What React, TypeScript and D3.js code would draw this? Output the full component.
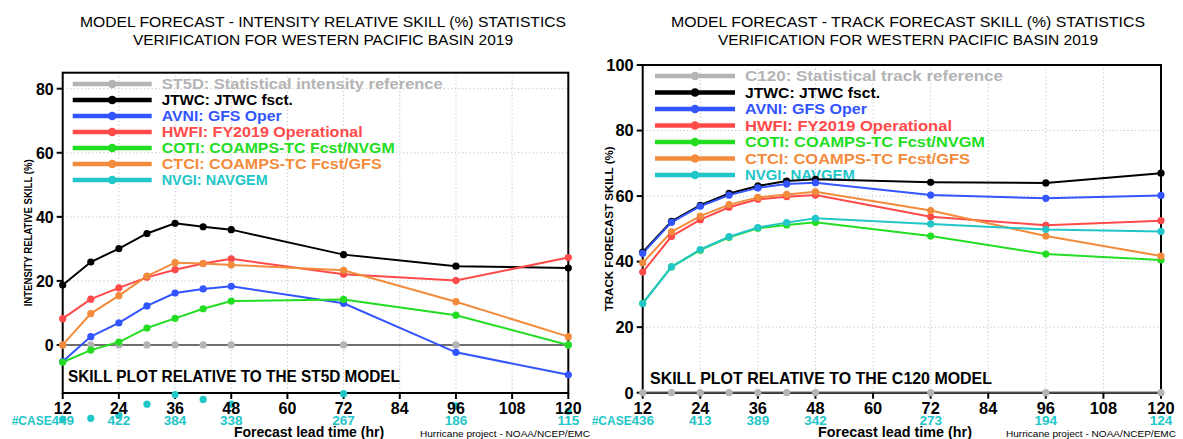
import React from "react";
import * as d3 from "d3";

const leadTimes = [12, 18, 24, 30, 36, 42, 48, 72, 96, 120];
const xTickValues = [12, 24, 36, 48, 60, 72, 84, 96, 108, 120];
const intensityTicks = [0, 20, 40, 60, 80];
const trackTicks = [0, 20, 40, 60, 80, 100];
const caseLeadTimes = [12, 24, 36, 48, 72, 96, 120];
const intensityCases = [449, 422, 384, 338, 267, 186, 115];
const trackCases = [436, 413, 389, 342, 273, 194, 124];

const st5dIntensity = [0, 0, 0, 0, 0, 0, 0, 0, 0, 0];
const jtwcIntensity = [18.7, 25.9, 30.1, 34.8, 38.0, 36.9, 36.0, 28.2, 24.6, 24.0];
const avniIntensity = [-5.2, 2.6, 6.9, 12.2, 16.2, 17.5, 18.3, 13.0, -2.3, -9.3];
const hwfiIntensity = [8.2, 14.3, 17.8, 21.1, 23.5, 25.4, 26.9, 22.1, 20.1, 27.3];
const cotiIntensity = [-5.4, -1.6, 0.9, 5.3, 8.3, 11.3, 13.7, 14.2, 9.3, 0.0];
const ctciIntensity = [0.0, 9.8, 15.4, 21.5, 25.7, 25.4, 25.0, 23.3, 13.5, 2.6];
const nvgiIntensity = [-23.2, -22.9, -22.0, -18.5, -15.5, -17.0, -18.5, -15.2, -19.0, -20.7];

const c120Track = [0, 0, 0, 0, 0, 0, 0, 0, 0, 0];
const jtwcTrack = [42.9, 52.3, 57.2, 60.8, 63.1, 64.6, 65.1, 64.2, 64.0, 67.0];
const avniTrack = [42.5, 52.0, 56.9, 60.3, 62.5, 63.7, 64.1, 60.3, 59.3, 60.2];
const hwfiTrack = [36.8, 47.7, 52.8, 56.6, 59.0, 59.8, 60.3, 53.7, 51.1, 52.5];
const cotiTrack = [27.3, 38.4, 43.5, 47.4, 50.2, 51.2, 52.0, 47.8, 42.3, 40.5];
const ctciTrack = [39.6, 49.1, 53.9, 57.4, 59.6, 60.5, 61.3, 55.6, 47.8, 41.7];
const nvgiTrack = [27.2, 38.4, 43.7, 47.6, 50.4, 51.9, 53.2, 51.5, 49.8, 49.2];

const modelColors = ["#b4b4b4", "#000000", "#3355ff", "#ff4a4a", "#22dd22", "#f28c3c", "#22c6c8"];
const intensityLabels = [
  "ST5D: Statistical intensity reference",
  "JTWC: JTWC fsct.",
  "AVNI: GFS Oper",
  "HWFI: FY2019 Operational",
  "COTI: COAMPS-TC Fcst/NVGM",
  "CTCI: COAMPS-TC Fcst/GFS",
  "NVGI: NAVGEM",
];
const trackLabels = [
  "C120: Statistical track reference",
  "JTWC: JTWC fsct.",
  "AVNI: GFS Oper",
  "HWFI: FY2019 Operational",
  "COTI: COAMPS-TC Fcst/NVGM",
  "CTCI: COAMPS-TC Fcst/GFS",
  "NVGI: NAVGEM",
];
const intensityTitle = ["MODEL FORECAST - INTENSITY RELATIVE SKILL (%) STATISTICS", "VERIFICATION FOR WESTERN PACIFIC BASIN 2019"];
const trackTitle = ["MODEL FORECAST - TRACK FORECAST SKILL (%) STATISTICS", "VERIFICATION FOR WESTERN PACIFIC BASIN 2019"];

const FONT = "'Liberation Sans', Arial, Helvetica, sans-serif";
const CYAN_TEXT = "#22c6c8";

type PanelCfg = {
  id: string;
  left: number;
  right: number;
  top: number;
  bottom: number;
  yDomain: [number, number];
  yTicks: number[];
  series: number[][];
  labels: string[];
  labelWidths: number[];
  cases: number[];
  title: string[];
  titleX: number;
  titleLen: number;
  yLabel: string;
  yLabelX: number;
  yLabelLen: number;
  skillText: string;
  skillX: number;
  skillY: number;
  skillLen: number;
  legendX0: number;
  legendX1: number;
  legendTextX: number;
  legendY0: number;
  legendDy: number;
  fs: number;
  footerEnd: number;
  xLabelX: number;
};

function Panel({ c }: { c: PanelCfg }) {
  const x = d3.scaleLinear().domain([12, 120]).range([c.left, c.right]);
  const y = d3.scaleLinear().domain(c.yDomain).range([c.bottom, c.top]);
  const line = d3
    .line<number>()
    .x((_, i) => x(leadTimes[i]))
    .y((d) => y(d));
  const fs = c.fs;
  const midY = (c.top + c.bottom) / 2;
  return (
    <g>
      <defs>
        <clipPath id={`clip-${c.id}`}>
          <rect x={c.left} y={c.top} width={c.right - c.left} height={c.bottom - c.top} />
        </clipPath>
      </defs>
      {/* titles */}
      <text
        x={c.titleX}
        y={27}
        textAnchor="middle"
        fontSize={15.5}
        fontFamily={FONT}
        fill="#000"
        textLength={c.titleLen}
        lengthAdjust="spacingAndGlyphs"
      >
        {c.title[0]}
      </text>
      <text x={c.titleX} y={44.5} textAnchor="middle" fontSize={15.5} fontFamily={FONT} fill="#000">
        {c.title[1]}
      </text>
      {/* grid */}
      {c.yTicks
        .filter((t) => t !== 0 && y(t) > c.top + 1)
        .map((t) => (
          <line key={`gy${t}`} x1={c.left} x2={c.right} y1={y(t)} y2={y(t)} stroke="#c4c4c4" strokeWidth={1} strokeDasharray="1.2,2.5" />
        ))}
      {xTickValues
        .filter((t) => t !== 12 && t !== 120)
        .map((t) => (
          <line key={`gx${t}`} x1={x(t)} x2={x(t)} y1={c.top} y2={c.bottom} stroke="#c4c4c4" strokeWidth={1} strokeDasharray="1.2,2.5" />
        ))}
      {/* zero line */}
      <line x1={c.left} x2={c.right} y1={y(0)} y2={y(0)} stroke="#666" strokeWidth={1.6} />
      {/* frame */}
      <rect x={c.left} y={c.top} width={c.right - c.left} height={c.bottom - c.top} fill="none" stroke="#000" strokeWidth={2} />
      {/* ticks */}
      {c.yTicks.map((t) => (
        <g key={`ty${t}`}>
          <line x1={c.left - 6} x2={c.left} y1={y(t)} y2={y(t)} stroke="#000" strokeWidth={2} />
          <text x={c.left - 9} y={y(t) + 5.8} textAnchor="end" fontSize={16 * fs} fontWeight="bold" fontFamily={FONT}>
            {t}
          </text>
        </g>
      ))}
      {xTickValues.map((t) => (
        <line key={`tx${t}`} x1={x(t)} x2={x(t)} y1={c.bottom} y2={c.bottom + 6} stroke="#000" strokeWidth={2} />
      ))}
      {/* y label */}
      <text
        transform={`translate(${c.yLabelX},${midY}) rotate(-90)`}
        textAnchor="middle"
        fontSize={11 * fs}
        fontWeight="bold"
        fontFamily={FONT}
        textLength={c.yLabelLen}
        lengthAdjust="spacingAndGlyphs"
      >
        {c.yLabel}
      </text>
      {/* legend */}
      {c.labels.map((lab, i) => {
        const ry = c.legendY0 + i * c.legendDy;
        return (
          <g key={`lg${i}`}>
            <line x1={c.legendX0} x2={c.legendX1} y1={ry} y2={ry} stroke={modelColors[i]} strokeWidth={4.5} />
            <circle cx={(c.legendX0 + c.legendX1) / 2} cy={ry} r={4.3} fill={modelColors[i]} />
            <text
              x={c.legendTextX}
              y={ry + 5}
              fontSize={14 * fs}
              fontWeight="bold"
              fontFamily={FONT}
              fill={modelColors[i]}
              textLength={c.labelWidths[i]}
              lengthAdjust="spacingAndGlyphs"
            >
              {lab}
            </text>
          </g>
        );
      })}
      {/* skill note */}
      <text
        x={c.skillX}
        y={c.skillY}
        fontSize={16 * fs}
        fontWeight="bold"
        fontFamily={FONT}
        textLength={c.skillLen}
        lengthAdjust="spacingAndGlyphs"
      >
        {c.skillText}
      </text>
      {/* series lines */}
      <g clipPath={`url(#clip-${c.id})`}>
        {c.series.map((s, i) => (
          <path key={`ln${i}`} d={line(s) || ""} fill="none" stroke={i === 0 ? "#666" : modelColors[i]} strokeWidth={i === 0 ? 1.6 : 2} />
        ))}
      </g>
      {/* markers */}
      {c.series.map((s, i) => (
        <g key={`mk${i}`}>
          {s.map((v, j) => (
            <circle key={j} cx={x(leadTimes[j])} cy={y(v)} r={3.6} fill={modelColors[i]} />
          ))}
        </g>
      ))}
      {/* x tick labels */}
      {xTickValues.map((t) => (
        <text key={`xl${t}`} x={x(t)} y={413.5} textAnchor="middle" fontSize={16 * fs} fontWeight="bold" fontFamily={FONT}>
          {t}
        </text>
      ))}
      {/* case counts */}
      <text
        x={x(12) - 11}
        y={424.5}
        textAnchor="end"
        fontSize={13}
        fontWeight="bold"
        fontFamily={FONT}
        fill={CYAN_TEXT}
        textLength={40}
        lengthAdjust="spacingAndGlyphs"
      >
        #CASE
      </text>
      {caseLeadTimes.map((t, i) => (
        <text key={`cs${t}`} x={x(t)} y={424.5} textAnchor="middle" fontSize={13.5} fontWeight="bold" fontFamily={FONT} fill={CYAN_TEXT}>
          {c.cases[i]}
        </text>
      ))}
      {/* x label */}
      <text x={c.xLabelX} y={436.5} textAnchor="middle" fontSize={14 * fs} fontWeight="bold" fontFamily={FONT}>
        Forecast lead time (hr)
      </text>
      <text x={c.footerEnd} y={437} textAnchor="end" fontSize={9.5} fontFamily={FONT} textLength={170} lengthAdjust="spacingAndGlyphs">
        Hurricane project - NOAA/NCEP/EMC
      </text>
    </g>
  );
}

const intensityPanel: PanelCfg = {
  id: "int",
  left: 62.7,
  right: 568.3,
  top: 72.7,
  bottom: 393,
  yDomain: [-15, 85],
  yTicks: intensityTicks,
  series: [st5dIntensity, jtwcIntensity, avniIntensity, hwfiIntensity, cotiIntensity, ctciIntensity, nvgiIntensity],
  labels: intensityLabels,
  labelWidths: [281, 131, 120, 201, 233, 220, 106],
  cases: intensityCases,
  title: intensityTitle,
  titleX: 323,
  titleLen: 486,
  yLabel: "INTENSITY RELATIVE SKILL (%)",
  yLabelX: 32,
  yLabelLen: 147,
  skillText: "SKILL PLOT RELATIVE TO THE ST5D MODEL",
  skillX: 68,
  skillY: 382,
  skillLen: 332,
  legendX0: 72.7,
  legendX1: 151.7,
  legendTextX: 161.7,
  legendY0: 84,
  legendDy: 16,
  fs: 1,
  footerEnd: 590,
  xLabelX: 309,
};

const trackPanel: PanelCfg = {
  id: "trk",
  left: 642.7,
  right: 1161,
  top: 65,
  bottom: 392.7,
  yDomain: [0, 100],
  yTicks: trackTicks,
  series: [c120Track, jtwcTrack, avniTrack, hwfiTrack, cotiTrack, ctciTrack, nvgiTrack],
  labels: trackLabels,
  labelWidths: [258, 135, 122, 207, 240, 225, 110],
  cases: trackCases,
  title: trackTitle,
  titleX: 908,
  titleLen: 474,
  yLabel: "TRACK FORECAST SKILL (%)",
  yLabelX: 613,
  yLabelLen: 165,
  skillText: "SKILL PLOT RELATIVE TO THE C120 MODEL",
  skillX: 650,
  skillY: 384,
  skillLen: 342,
  legendX0: 655,
  legendX1: 735,
  legendTextX: 745,
  legendY0: 76,
  legendDy: 16.5,
  fs: 1.025,
  footerEnd: 1176,
  xLabelX: 895,
};

export default function App() {
  return (
    <svg
      width={1183}
      height={439}
      viewBox="0 0 1183 439"
      style={{ position: "absolute", left: 0, top: 0, background: "#fff" }}
    >
      <rect x={0} y={0} width={1183} height={439} fill="#fff" />
      <Panel c={intensityPanel} />
      <Panel c={trackPanel} />
    </svg>
  );
}
